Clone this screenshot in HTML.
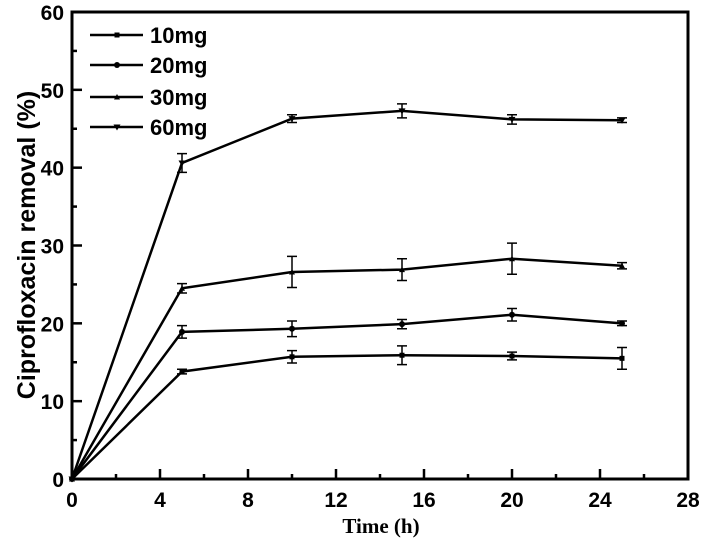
<!DOCTYPE html>
<html><head><meta charset="utf-8"><style>
body{margin:0;background:#fff}
svg{display:block}
text{font-family:"Liberation Sans",sans-serif;font-weight:bold;fill:#000}
</style></head><body>
<svg id="chart" width="708" height="551" viewBox="0 0 708 551" xmlns="http://www.w3.org/2000/svg"></svg>
<script>
const xTicks=[0,4,8,12,16,20,24,28];
const yTicks=[0,10,20,30,40,50,60];
const times=[0,5,10,15,20,25];
const seriesNames=["10mg","20mg","30mg","60mg"];
const s10=[0,13.8,15.7,15.9,15.8,15.5];
const e10=[0,0.3,0.8,1.2,0.5,1.4];
const s20=[0,18.9,19.3,19.9,21.1,20.0];
const e20=[0,0.8,1.0,0.6,0.8,0.3];
const s30=[0,24.5,26.6,26.9,28.3,27.4];
const e30=[0,0.6,2.0,1.4,2.0,0.4];
const s60=[0,40.6,46.3,47.3,46.2,46.1];
const e60=[0,1.2,0.5,0.9,0.6,0.3];

const svg=document.getElementById('chart');
const NS='http://www.w3.org/2000/svg';
const L=72,R=688,T=12,B=479;
const xs=v=>L+(v-0)/(28-0)*(R-L);
const ys=v=>B-(v-0)/(60-0)*(B-T);
function mk(tag,attrs,parent){const e=document.createElementNS(NS,tag);for(const k in attrs)e.setAttribute(k,attrs[k]);(parent||svg).appendChild(e);return e;}

const frame=mk('rect',{x:L,y:T,width:R-L,height:B-T,fill:'none',stroke:'#000','stroke-width':3});



for(let v=0;v<=28;v+=2){
  const major=v%4===0;
  const t=mk('line',{x1:xs(v),x2:xs(v),y1:B,y2:B-(major?10:5),stroke:'#000','stroke-width':2.5});
  
  
}
xTicks.forEach(v=>{
  const t=mk('text',{x:xs(v),y:B+28,'text-anchor':'middle','font-size':21});
  t.textContent=v;
  
  
});
for(let v=0;v<=60;v+=5){
  const major=v%10===0;
  const t=mk('line',{x1:L,x2:L+(major?10:5),y1:ys(v),y2:ys(v),stroke:'#000','stroke-width':2.5});
  
  
}
yTicks.forEach(v=>{
  const t=mk('text',{x:L-8,y:ys(v)+8,'text-anchor':'end','font-size':21});
  t.textContent=v;
  
  
});
const yt=mk('text',{x:0,y:0,'text-anchor':'middle','font-size':25,transform:'translate(35,245) rotate(-90)'});
yt.textContent='Ciprofloxacin removal (%)';


const xt=mk('text',{x:381,y:533,'text-anchor':'middle','font-size':21,style:'font-family:"Liberation Serif",serif'});
xt.textContent='Time (h)';



const allS=[s10,s20,s30,s60],allE=[e10,e20,e30,e60];
function marker(kind,x,y,g){
  if(kind===0)mk('rect',{x:x-2.5,y:y-2.5,width:5,height:5,fill:'#000'},g);
  else if(kind===1)mk('circle',{cx:x,cy:y,r:3,fill:'#000'},g);
  else if(kind===2)mk('path',{d:`M${x-3},${y+2.5}L${x+3},${y+2.5}L${x},${y-3}Z`,fill:'#000'},g);
  else mk('path',{d:`M${x-3.5},${y-2.5}L${x+3.5},${y-2.5}L${x},${y+3.5}Z`,fill:'#000'},g);
}
allS.forEach((s,i)=>{
  const g=mk('g',{});
  
  
  const pts=times.map((t,j)=>xs(t)+','+ys(s[j])).join(' ');
  mk('polyline',{points:pts,fill:'none',stroke:'#000','stroke-width':2.5},g);
  times.forEach((t,j)=>{
    const x=xs(t),e=allE[i][j];
    if(e>0){
      mk('path',{d:`M${x},${ys(s[j]+e)}V${ys(s[j]-e)}M${x-5},${ys(s[j]+e)}H${x+5}M${x-5},${ys(s[j]-e)}H${x+5}`,stroke:'#000','stroke-width':1.5,fill:'none'},g);
    }
    marker(i,x,ys(s[j]),g);
  });
});
const legY=[35,65,97,127];
seriesNames.forEach((n,i)=>{
  const g=mk('g',{});
  
  
  mk('line',{x1:90,x2:143,y1:legY[i],y2:legY[i],stroke:'#000','stroke-width':2.5},g);
  marker(i,117,legY[i],g);
  const t=mk('text',{x:150,y:legY[i]+8,'font-size':22},g);
  t.textContent=n;
});
</script>
</body></html>
